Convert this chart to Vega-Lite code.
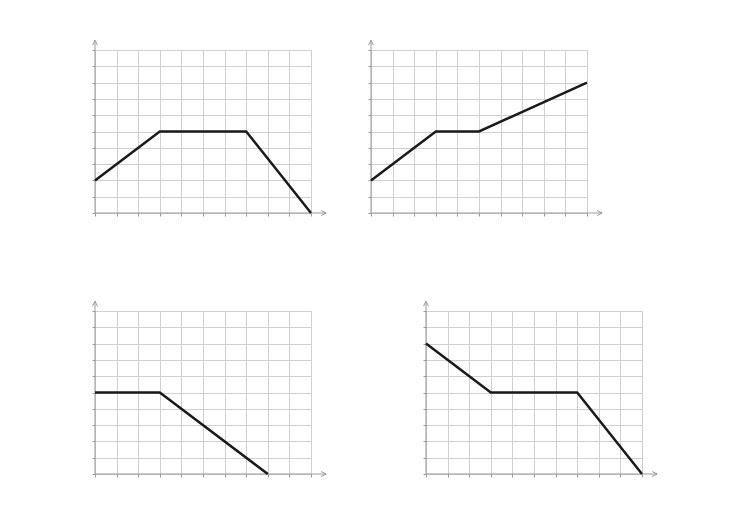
{
  "$schema": "https://vega.github.io/schema/vega-lite/v6.json",
  "background": "white",
  "padding": {"left": 90, "top": 38, "right": 5, "bottom": 5},
  "config": {"view": {"stroke": null}},
  "datasets": {
    "lines": [
      {"panel": 1, "x": 0, "y": 2}, {"panel": 1, "x": 3, "y": 5}, {"panel": 1, "x": 7, "y": 5}, {"panel": 1, "x": 10, "y": 0},
      {"panel": 2, "x": 0, "y": 2}, {"panel": 2, "x": 3, "y": 5}, {"panel": 2, "x": 5, "y": 5}, {"panel": 2, "x": 10, "y": 8},
      {"panel": 3, "x": 0, "y": 5}, {"panel": 3, "x": 3, "y": 5}, {"panel": 3, "x": 8, "y": 0},
      {"panel": 4, "x": 0, "y": 8}, {"panel": 4, "x": 3, "y": 5}, {"panel": 4, "x": 7, "y": 5}, {"panel": 4, "x": 10, "y": 0}
    ],
    "axislines": [
      {"x": 0, "y": 0, "x2": 10.7, "y2": 0},
      {"x": 0, "y": 0, "x2": 0, "y2": 10.6}
    ],
    "heads": [
      {"x": 10.7, "y": 0, "dir": "right"},
      {"x": 0, "y": 10.6, "dir": "up"}
    ]
  },
  "spacing": 81,
  "vconcat": [
    {
      "bounds": "flush",
      "spacing": 60,
      "hconcat": [
        {
          "width": 216, "height": 163,
          "encoding": {
            "x": {"field": "x", "type": "quantitative", "scale": {"domain": [0, 10], "nice": false, "zero": false}, "axis": {"values": [0,1,2,3,4,5,6,7,8,9,10], "grid": true, "gridColor": "#cfcfcf", "gridWidth": 1, "labels": false, "ticks": true, "tickSize": 3, "tickColor": "#999999", "domain": false, "title": null}},
            "y": {"field": "y", "type": "quantitative", "scale": {"domain": [0, 10], "nice": false, "zero": false}, "axis": {"values": [0,1,2,3,4,5,6,7,8,9,10], "grid": true, "gridColor": "#cfcfcf", "gridWidth": 1, "labels": false, "ticks": true, "tickSize": 3, "tickColor": "#999999", "domain": false, "title": null}}
          },
          "layer": [
            {"data": {"name": "axislines"}, "mark": {"type": "rule", "color": "#999999", "strokeWidth": 1}, "encoding": {"x2": {"field": "x2"}, "y2": {"field": "y2"}}},
            {"data": {"name": "heads"}, "mark": {"type": "point", "filled": false, "stroke": "#999999", "strokeWidth": 1, "size": 25, "opacity": 1}, "encoding": {"shape": {"field": "dir", "type": "nominal", "scale": {"domain": ["right", "up"], "range": ["M-2,-1L0,0L-2,1", "M-1,2L0,0L1,2"]}, "legend": null}}},
            {"data": {"name": "lines"}, "transform": [{"filter": "datum.panel == 1"}], "mark": {"type": "line", "color": "#1a1a1a", "strokeWidth": 2.5}}
          ]
        },
        {
          "width": 216, "height": 163,
          "encoding": {
            "x": {"field": "x", "type": "quantitative", "scale": {"domain": [0, 10], "nice": false, "zero": false}, "axis": {"values": [0,1,2,3,4,5,6,7,8,9,10], "grid": true, "gridColor": "#cfcfcf", "gridWidth": 1, "labels": false, "ticks": true, "tickSize": 3, "tickColor": "#999999", "domain": false, "title": null}},
            "y": {"field": "y", "type": "quantitative", "scale": {"domain": [0, 10], "nice": false, "zero": false}, "axis": {"values": [0,1,2,3,4,5,6,7,8,9,10], "grid": true, "gridColor": "#cfcfcf", "gridWidth": 1, "labels": false, "ticks": true, "tickSize": 3, "tickColor": "#999999", "domain": false, "title": null}}
          },
          "layer": [
            {"data": {"name": "axislines"}, "mark": {"type": "rule", "color": "#999999", "strokeWidth": 1}, "encoding": {"x2": {"field": "x2"}, "y2": {"field": "y2"}}},
            {"data": {"name": "heads"}, "mark": {"type": "point", "filled": false, "stroke": "#999999", "strokeWidth": 1, "size": 25, "opacity": 1}, "encoding": {"shape": {"field": "dir", "type": "nominal", "scale": {"domain": ["right", "up"], "range": ["M-2,-1L0,0L-2,1", "M-1,2L0,0L1,2"]}, "legend": null}}},
            {"data": {"name": "lines"}, "transform": [{"filter": "datum.panel == 2"}], "mark": {"type": "line", "color": "#1a1a1a", "strokeWidth": 2.5}}
          ]
        }
      ]
    },
    {
      "bounds": "flush",
      "spacing": 115,
      "hconcat": [
        {
          "width": 216, "height": 163,
          "encoding": {
            "x": {"field": "x", "type": "quantitative", "scale": {"domain": [0, 10], "nice": false, "zero": false}, "axis": {"values": [0,1,2,3,4,5,6,7,8,9,10], "grid": true, "gridColor": "#cfcfcf", "gridWidth": 1, "labels": false, "ticks": true, "tickSize": 3, "tickColor": "#999999", "domain": false, "title": null}},
            "y": {"field": "y", "type": "quantitative", "scale": {"domain": [0, 10], "nice": false, "zero": false}, "axis": {"values": [0,1,2,3,4,5,6,7,8,9,10], "grid": true, "gridColor": "#cfcfcf", "gridWidth": 1, "labels": false, "ticks": true, "tickSize": 3, "tickColor": "#999999", "domain": false, "title": null}}
          },
          "layer": [
            {"data": {"name": "axislines"}, "mark": {"type": "rule", "color": "#999999", "strokeWidth": 1}, "encoding": {"x2": {"field": "x2"}, "y2": {"field": "y2"}}},
            {"data": {"name": "heads"}, "mark": {"type": "point", "filled": false, "stroke": "#999999", "strokeWidth": 1, "size": 25, "opacity": 1}, "encoding": {"shape": {"field": "dir", "type": "nominal", "scale": {"domain": ["right", "up"], "range": ["M-2,-1L0,0L-2,1", "M-1,2L0,0L1,2"]}, "legend": null}}},
            {"data": {"name": "lines"}, "transform": [{"filter": "datum.panel == 3"}], "mark": {"type": "line", "color": "#1a1a1a", "strokeWidth": 2.5}}
          ]
        },
        {
          "width": 216, "height": 163,
          "encoding": {
            "x": {"field": "x", "type": "quantitative", "scale": {"domain": [0, 10], "nice": false, "zero": false}, "axis": {"values": [0,1,2,3,4,5,6,7,8,9,10], "grid": true, "gridColor": "#cfcfcf", "gridWidth": 1, "labels": false, "ticks": true, "tickSize": 3, "tickColor": "#999999", "domain": false, "title": null}},
            "y": {"field": "y", "type": "quantitative", "scale": {"domain": [0, 10], "nice": false, "zero": false}, "axis": {"values": [0,1,2,3,4,5,6,7,8,9,10], "grid": true, "gridColor": "#cfcfcf", "gridWidth": 1, "labels": false, "ticks": true, "tickSize": 3, "tickColor": "#999999", "domain": false, "title": null}}
          },
          "layer": [
            {"data": {"name": "axislines"}, "mark": {"type": "rule", "color": "#999999", "strokeWidth": 1}, "encoding": {"x2": {"field": "x2"}, "y2": {"field": "y2"}}},
            {"data": {"name": "heads"}, "mark": {"type": "point", "filled": false, "stroke": "#999999", "strokeWidth": 1, "size": 25, "opacity": 1}, "encoding": {"shape": {"field": "dir", "type": "nominal", "scale": {"domain": ["right", "up"], "range": ["M-2,-1L0,0L-2,1", "M-1,2L0,0L1,2"]}, "legend": null}}},
            {"data": {"name": "lines"}, "transform": [{"filter": "datum.panel == 4"}], "mark": {"type": "line", "color": "#1a1a1a", "strokeWidth": 2.5}}
          ]
        }
      ]
    }
  ]
}
